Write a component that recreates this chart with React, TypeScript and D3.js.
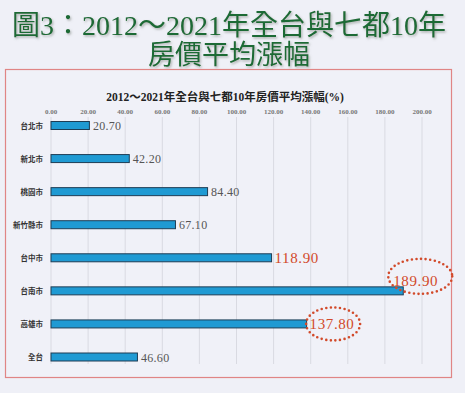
import React from "react";
import * as d3 from "d3";

// 2012~2021 全台與七都 10 年房價平均漲幅 (%)
const categories = ["台北市", "新北市", "桃園市", "新竹縣市", "台中市", "台南市", "高雄市", "全台"];
const values = [20.7, 42.2, 84.4, 67.1, 118.9, 189.9, 137.8, 46.6];
const tickValues = [0, 20, 40, 60, 80, 100, 120, 140, 160, 180, 200];
const redLabels = ["台中市", "台南市", "高雄市"];
const circledLabels = ["台南市", "高雄市"];

const W = 465;
const H = 393;
const serif = "'Liberation Serif', 'Noto Sans CJK TC', serif";
const cjk = "'Noto Sans CJK TC', sans-serif";

const App = () => {
  const x = d3.scaleLinear().domain([0, 200]).range([51, 422]);
  const y = d3.scalePoint<string>().domain(categories).range([125.5, 357]);
  const barH = 8;
  const gridTop = 117;
  const gridBottom = 364;

  const rows = categories.map((c, i) => {
    const v = values[i];
    const red = redLabels.includes(c);
    const above = c === "台南市";
    const lx = above ? x(v) - 10 : x(v) + (red ? 3 : 3.5);
    const ly = (y(c) as number) + (above ? -5 : red ? 5.5 : 4.5);
    return { c, v, red, above, lx, ly, circled: circledLabels.includes(c) };
  });

  return (
    <div style={{ position: "fixed", left: 0, top: 0 }}>
      <svg width={W} height={H} style={{ display: "block" }}>
        <defs>
          <filter id="glow" x="-5%" y="-20%" width="110%" height="140%">
            <feDropShadow dx="1.2" dy="1.5" stdDeviation="1.2" floodColor="#6f7a70" floodOpacity="0.55" />
          </filter>
        </defs>
        <rect width={W} height={H} fill="#eff0f7" />

        <g fill="#1d6a35" fontFamily={serif} filter="url(#glow)" textAnchor="middle">
          <text x={229} y={35} fontSize={28}>圖3：2012～2021年全台與七都10年</text>
          <text x={229} y={64} fontSize={27}>房價平均漲幅</text>
        </g>

        <rect x={5.5} y={69.5} width={446} height={308} fill="#f0f1f8" stroke="#e08585" strokeWidth={1.2} />

        <text x={225} y={101} textAnchor="middle" fontSize={11.5} fontWeight="bold" fontFamily={serif} fill="#222">
          2012～2021年全台與七都10年房價平均漲幅(%)
        </text>

        {tickValues.map((t) => (
          <g key={t}>
            <line x1={x(t)} x2={x(t)} y1={gridTop} y2={gridBottom} stroke="#d9dae2" strokeWidth={1} />
            <text x={x(t)} y={114} textAnchor="middle" fontSize={7} fontWeight="bold" fontFamily={serif} fill="#777">
              {d3.format(".2f")(t)}
            </text>
          </g>
        ))}

        {rows.map((r) => (
          <g key={r.c}>
            <text x={43} y={(y(r.c) as number) + 3} textAnchor="end" fontSize={7.5} fontWeight="bold" fontFamily={cjk} fill="#333">
              {r.c}
            </text>
            <rect
              x={x(0)}
              y={(y(r.c) as number) - barH / 2}
              width={x(r.v) - x(0)}
              height={barH}
              fill="#1f9ad3"
              stroke="#1e3d55"
              strokeWidth={1}
            />
            <text
              x={r.lx}
              y={r.ly}
              fontSize={r.red ? 15 : 12}
              letterSpacing={r.red ? 0.6 : 0.3}
              fontFamily={serif}
              fill={r.red ? "#d24a2a" : "#555"}
            >
              {d3.format(".2f")(r.v)}
            </text>
            {r.circled && (
              <ellipse
                cx={r.lx + (r.above ? 27 : 23.5)}
                cy={r.ly - (r.above ? 9.5 : 5.5)}
                rx={r.above ? 32 : 27}
                ry={r.above ? 17.5 : 16.5}
                fill="none"
                stroke="#d24a2a"
                strokeWidth={2.6}
                strokeDasharray="0 4.6"
                strokeLinecap="round"
              />
            )}
          </g>
        ))}
      </svg>
    </div>
  );
};

export default App;
